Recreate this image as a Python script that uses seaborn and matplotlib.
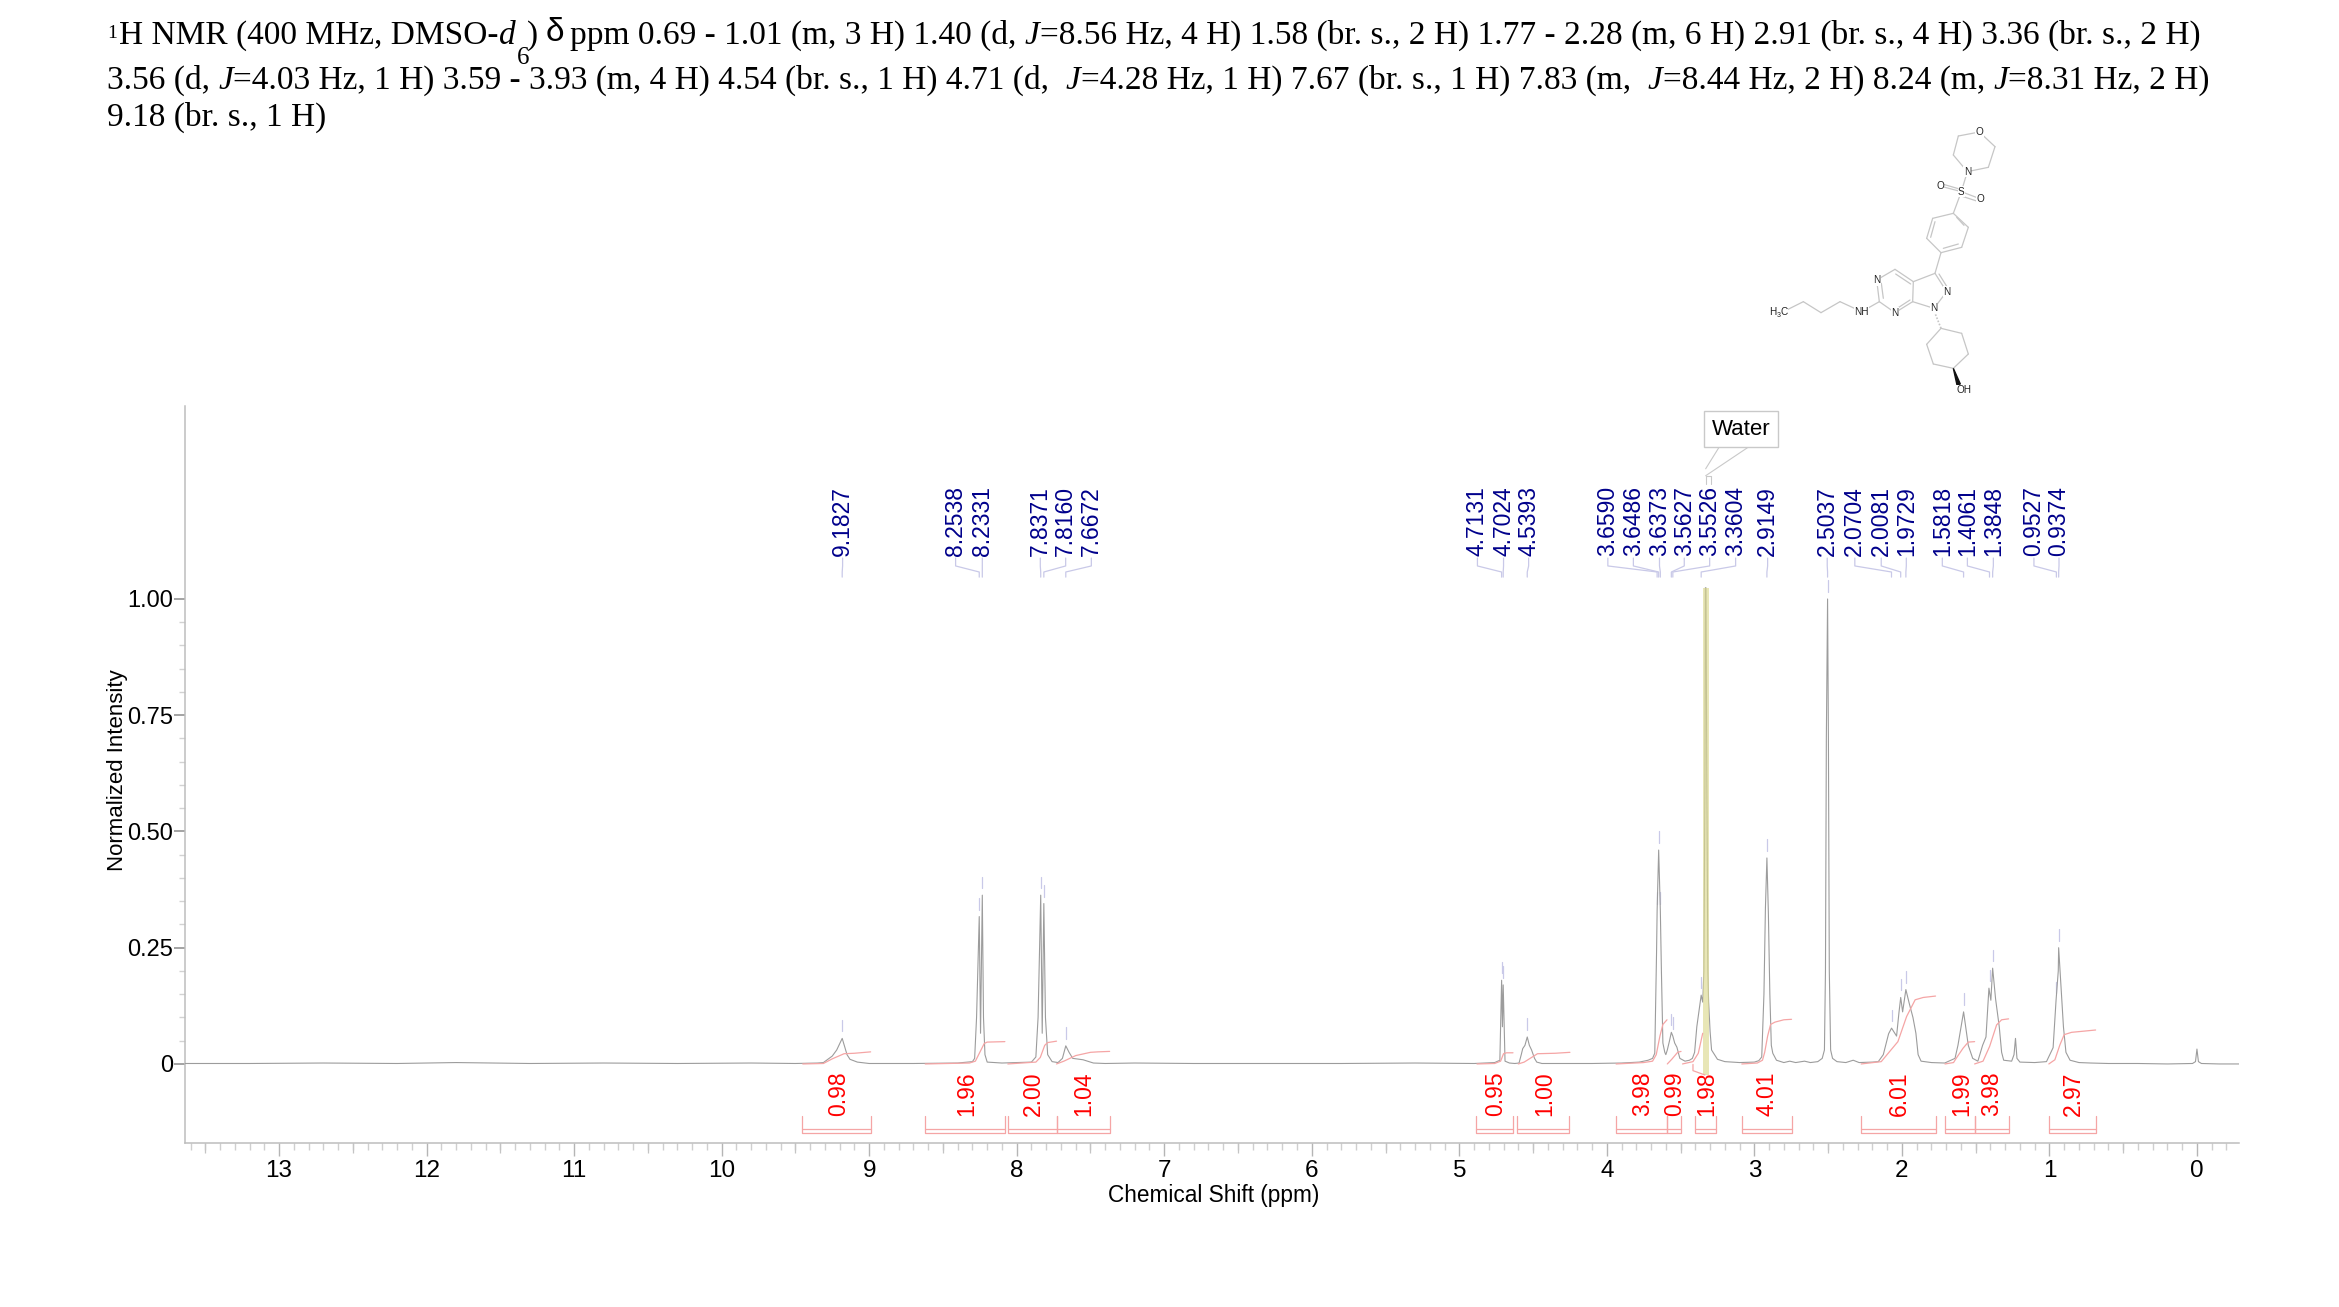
import numpy as np
import matplotlib
matplotlib.use("Agg")
import matplotlib.pyplot as plt
import seaborn as sns

sns.set_theme(style="ticks")
plt.rcParams['font.family'] = ['Liberation Sans', 'DejaVu Sans']

W, H = 2339, 1307

# ---- spectrum (ppm, normalized intensity) ----
spec_ppm = [13.64, 13.2, 12.7, 12.2, 11.8, 11.3, 10.8, 10.3, 9.8, 9.5, 9.35, 9.31, 9.25, 9.22, 9.1827, 9.15, 9.13, 9.08, 9.0,
            8.7, 8.4, 8.3, 8.285, 8.272, 8.2538, 8.245, 8.2331, 8.225, 8.215, 8.2, 8.1, 8.0, 7.9, 7.87, 7.855, 7.8371, 7.827, 7.816, 7.805, 7.79, 7.76,
            7.72, 7.69, 7.6672, 7.645, 7.62, 7.55, 7.48, 7.4, 7.2, 6.8, 6.3, 5.8, 5.3, 4.9, 4.76, 4.725, 4.7131, 4.7075, 4.7024, 4.69, 4.66, 4.624,
            4.595, 4.58, 4.57, 4.555, 4.5393, 4.525, 4.51, 4.49, 4.475, 4.44, 4.3, 4.1, 3.9, 3.78, 3.72, 3.69, 3.675, 3.663, 3.659, 3.6486, 3.6373, 3.63, 3.62, 3.607,
            3.6, 3.59, 3.575, 3.5627, 3.5526, 3.54, 3.525, 3.505, 3.47, 3.44, 3.42, 3.405, 3.39, 3.3604, 3.35, 3.342, 3.335, 3.332, 3.328, 3.322, 3.315, 3.31, 3.3,
            3.29, 3.25, 3.2, 3.1, 3.0, 2.97, 2.95, 2.935, 2.925, 2.9149, 2.905, 2.895, 2.885, 2.875, 2.85, 2.8, 2.76, 2.72, 2.66, 2.62, 2.57, 2.54, 2.525, 2.518, 2.512,
            2.5037, 2.498, 2.492, 2.483, 2.47, 2.44, 2.38, 2.33, 2.29, 2.2, 2.16, 2.126, 2.09, 2.07, 2.036, 2.02, 2.008, 1.995, 1.973, 1.95, 1.925, 1.905, 1.89, 1.87, 1.8,
            1.71, 1.64, 1.62, 1.5818, 1.55, 1.52, 1.485, 1.453, 1.43, 1.41, 1.397, 1.3848, 1.365, 1.34, 1.324, 1.31, 1.256, 1.24, 1.23, 1.22, 1.2, 1.1,
            1.02, 0.975, 0.955, 0.94, 0.9374, 0.92, 0.905, 0.888, 0.86, 0.8, 0.72, 0.6, 0.4, 0.2, 0.03, 0.01, 0.0, -0.01, -0.03, -0.15, -0.285]
spec_int = [0.001, 0.001, 0.002, 0.001, 0.003, 0.001, 0.002, 0.001, 0.002, 0.001, 0.002, 0.003, 0.017, 0.03, 0.055, 0.02, 0.01, 0.004, 0.001,
            0.001, 0.002, 0.005, 0.012, 0.1, 0.317, 0.066, 0.363, 0.1, 0.02, 0.004, 0.002, 0.003, 0.004, 0.015, 0.1, 0.363, 0.066, 0.345, 0.1, 0.02, 0.005,
            0.003, 0.012, 0.039, 0.025, 0.012, 0.009, 0.002, 0.001, 0.002, 0.001, 0.001, 0.001, 0.002, 0.001, 0.003, 0.008, 0.18, 0.08, 0.17, 0.006, 0.002, 0.001,
            0.002, 0.02, 0.033, 0.04, 0.058, 0.04, 0.03, 0.012, 0.004, 0.001, 0.001, 0.001, 0.002, 0.004, 0.008, 0.012, 0.023, 0.238, 0.33, 0.46, 0.33, 0.2, 0.045, 0.025,
            0.02, 0.03, 0.05, 0.068, 0.06, 0.045, 0.036, 0.012, 0.006, 0.008, 0.012, 0.025, 0.08, 0.148, 0.133, 0.2, 0.6, 1.024, 1.024, 0.6, 0.2, 0.133, 0.07,
            0.03, 0.01, 0.005, 0.003, 0.004, 0.007, 0.015, 0.15, 0.335, 0.443, 0.325, 0.15, 0.04, 0.023, 0.008, 0.003, 0.006, 0.003, 0.006, 0.003, 0.005, 0.012, 0.03, 0.2, 0.7,
            1.0, 0.7, 0.2, 0.03, 0.012, 0.005, 0.003, 0.008, 0.003, 0.004, 0.005, 0.02, 0.065, 0.077, 0.06, 0.11, 0.143, 0.112, 0.16, 0.13, 0.1, 0.066, 0.02, 0.006, 0.003,
            0.002, 0.012, 0.04, 0.112, 0.04, 0.012, 0.006, 0.04, 0.058, 0.163, 0.137, 0.206, 0.14, 0.08, 0.025, 0.008, 0.006, 0.02, 0.055, 0.012, 0.004, 0.003,
            0.005, 0.035, 0.137, 0.2, 0.25, 0.16, 0.08, 0.025, 0.008, 0.003, 0.002, 0.001, 0.001, 0.0, 0.001, 0.005, 0.032, 0.005, 0.001, 0.0, 0.0]

# ---- peak labels: text, ppm, stem position (ppm), peak height ----
peak_text = ["9.1827", "8.2538", "8.2331", "7.8371", "7.8160", "7.6672", "4.7131", "4.7024", "4.5393", "3.6590", "3.6486", "3.6373",
             "3.5627", "3.5526", "3.3604", "2.9149", "2.5037", "2.0704", "2.0081", "1.9729", "1.5818", "1.4061", "1.3848", "0.9527", "0.9374"]
peak_ppm = [float(t) for t in peak_text]
peak_stem = [9.18, 8.414, 8.233, 7.84, 7.668, 7.494, 4.877, 4.7, 4.53, 3.993, 3.82, 3.643, 3.475, 3.303, 3.127, 2.91, 2.506, 2.319, 2.14, 1.97,
             1.726, 1.556, 1.38, 1.105, 0.935]
peak_top = [0.055, 0.317, 0.363, 0.363, 0.345, 0.039, 0.18, 0.17, 0.058, 0.33, 0.46, 0.33, 0.068, 0.06, 0.148, 0.443, 1.0,
            0.077, 0.143, 0.16, 0.112, 0.163, 0.206, 0.137, 0.25]

# ---- integrals ----
integral_text = ["0.98", "1.96", "2.00", "1.04", "0.95", "1.00", "3.98", "0.99", "1.98", "4.01", "6.01", "1.99", "3.98", "2.97"]
integral_from = [9.457, 8.62, 8.06, 7.73, 4.887, 4.606, 3.937, 3.592, 3.403, 3.085, 2.276, 1.708, 1.507, 1.004]
integral_to = [8.99, 8.08, 7.73, 7.37, 4.636, 4.253, 3.592, 3.497, 3.26, 2.748, 1.772, 1.507, 1.277, 0.687]
integral_label_at = [9.21, 8.34, 7.89, 7.545, 4.755, 4.42, 3.756, 3.54, 3.32, 2.915, 2.02, 1.595, 1.39, 0.84]
integral_curves = [
    ([9.45, 9.31, 9.25, 9.17, 9.1, 8.99], [0, .001, .011, .022, .023, .026]),
    ([8.62, 8.32, 8.28, 8.25, 8.22, 8.2, 8.08], [0, .002, .006, .025, .044, .047, .048]),
    ([8.06, 7.87, 7.84, 7.81, 7.79, 7.73], [0, .004, .014, .04, .046, .049]),
    ([7.73, 7.68, 7.6, 7.5, 7.45, 7.37], [0, .006, .018, .025, .026, .027]),
    ([4.88, 4.76, 4.72, 4.7, 4.68, 4.636], [0, .001, .006, .022, .024, .024]),
    ([4.6, 4.56, 4.5, 4.47, 4.35, 4.25], [0, .004, .016, .022, .023, .025]),
    ([3.937, 3.75, 3.69, 3.665, 3.64, 3.62, 3.592], [0, .003, .006, .02, .06, .085, .095]),
    ([3.59, 3.56, 3.52, 3.497], [0, .01, .025, .027]),
    ([3.487, 3.416, 3.38, 3.35], [0, .005, .023, .066]),
    ([3.416, 3.416, 3.335], [-.001, -.0144, -.0237]),
    ([3.085, 2.98, 2.945, 2.93, 2.91, 2.89, 2.86, 2.8, 2.748], [0, .002, .008, .025, .06, .085, .09, .095, .096]),
    ([2.276, 2.14, 2.027, 1.968, 1.91, 1.855, 1.772], [0, .005, .048, .102, .138, .143, .146]),
    ([1.708, 1.65, 1.63, 1.585, 1.55, 1.507], [0, .003, .013, .034, .047, .048]),
    ([1.507, 1.45, 1.405, 1.358, 1.324, 1.277], [0, .006, .038, .084, .095, .097]),
    ([1.004, .963, .929, .9, .85, .687], [0, .009, .041, .063, .068, .073]),
]

x_major = [13, 12, 11, 10, 9, 8, 7, 6, 5, 4, 3, 2, 1, 0]
y_major = [0, 0.25, 0.5, 0.75, 1.0]
y_major_text = ["0", "0.25", "0.50", "0.75", "1.00"]

title_line1 = "ppm 0.69 - 1.01 (m, 3 H) 1.40 (d, |J|=8.56 Hz, 4 H) 1.58 (br. s., 2 H) 1.77 - 2.28 (m, 6 H) 2.91 (br. s., 4 H) 3.36 (br. s., 2 H)"
title_line2 = "3.56 (d, |J|=4.03 Hz, 1 H) 3.59 - 3.93 (m, 4 H) 4.54 (br. s., 1 H) 4.71 (d,  |J|=4.28 Hz, 1 H) 7.67 (br. s., 1 H) 7.83 (m,  |J|=8.44 Hz, 2 H) 8.24 (m, |J|=8.31 Hz, 2 H)"
title_line3 = "9.18 (br. s., 1 H)"

# ---- structure drawing, page pixels ----
mol_origin = (1740, 110)
mol_bonds = [((718, 66), (655, 78)), ((655, 78), (640, 135)), ((640, 135), (682, 185)), ((682, 185), (745, 172)), ((745, 172), (765, 110)), ((765, 110), (718, 66)),
             ((682, 185), (664, 245)), ((664, 245), (640, 310)),
             ((640, 310), (685, 352)), ((685, 352), (665, 412)), ((665, 412), (603, 428)), ((603, 428), (560, 385)), ((560, 385), (578, 325)), ((578, 325), (640, 310)),
             ((603, 428), (585, 490)), ((585, 490), (520, 515)), ((520, 515), (518, 575)), ((518, 575), (582, 595)), ((582, 595), (620, 545)), ((620, 545), (585, 490)),
             ((520, 515), (465, 478)), ((465, 478), (410, 510)), ((410, 510), (418, 575)), ((418, 575), (465, 608)), ((465, 608), (518, 575)),
             ((418, 575), (365, 605)), ((365, 605), (300, 575)), ((300, 575), (243, 608)), ((243, 608), (190, 575)), ((190, 575), (130, 605)),
             ((603, 655), (665, 670)), ((665, 670), (685, 732)), ((685, 732), (640, 775)), ((640, 775), (580, 762)), ((580, 762), (560, 703)), ((560, 703), (603, 655)),
             ((664, 245), (600, 228)), ((664, 245), (722, 267))]
mol_double = [((650, 322), (672, 346)), ((655, 402), (610, 415)), ((572, 382), (585, 335)),
              ((622, 532), (597, 492)), ((512, 522), (467, 492)), ((424, 520), (430, 565)), ((470, 596), (510, 570)),
              ((655, 236), (607, 222)), ((661, 257), (716, 275))]
mol_atoms = [("O", 718, 66), ("N", 682, 185), ("S", 664, 245), ("O", 600, 228), ("O", 722, 267), ("N", 620, 545), ("N", 582, 595),
             ("N", 410, 510), ("N", 465, 608), ("NH", 365, 605), ("H", 97, 605), ("C", 132, 605), ("OH", 672, 840)]

fig = plt.figure(figsize=(W / 100, H / 100), dpi=100, facecolor="white")
L, R, T, B = 184.6, 2239, 406, 1143
ax = fig.add_axes([L / W, 1 - B / H, (R - L) / W, (B - T) / H])
ax.set_facecolor("white")
ax.set_xlim(13.64, -0.285)
ax.set_ylim(-0.17, 1.415)

SP, INT, PK, PK_TXT = "#9c9c9c", "#f5a5a5", "#c9c9e8", "#00008b"

sns.lineplot(x=spec_ppm, y=spec_int, sort=False, estimator=None, errorbar=None, color=SP, lw=0.8, ax=ax, zorder=3)
ax.fill_betweenx([-0.024, 1.024], 3.346, 3.31, color="#dcd98f", alpha=0.65, lw=0, zorder=4)

for (cx, cy) in integral_curves:
    ax.plot(cx, cy, color=INT, lw=0.9, zorder=4)

for t, a, b, lab in zip(integral_text, integral_from, integral_to, integral_label_at):
    ax.plot([a, a, b, b], [-0.113, -0.148, -0.148, -0.113], color=INT, lw=0.9, zorder=3)
    ax.plot([a, b], [-0.14, -0.14], color=INT, lw=0.9, zorder=3)
    ax.text(lab, -0.112, t, rotation=90, ha="center", va="bottom", fontsize=16.5, color="#ff0000", zorder=5)

for t, p, s, top in zip(peak_text, peak_ppm, peak_stem, peak_top):
    ax.plot([s, s, p, p], [1.088, 1.071, 1.058, 1.047], color=PK, lw=0.9, zorder=2)
    ax.plot([p, p], [top + 0.015, top + 0.04], color=PK, lw=0.9, zorder=2)
    ax.text(s, 1.0925, t, rotation=90, ha="center", va="bottom", fontsize=16.5, color=PK_TXT)

# water callout
ax.plot([3.33, 3.33, 3.295, 3.295], [1.247, 1.265, 1.265, 1.247], color="#c9c9c9", lw=0.8)
ax.plot([3.33, 3.23], [1.28, 1.331], color="#c9c9c9", lw=0.8)
ax.plot([3.33, 3.02], [1.265, 1.331], color="#c9c9c9", lw=0.8)
ax.text(3.09, 1.3655, "Water", ha="center", va="center", fontsize=16, color="#000000",
        bbox=dict(boxstyle="square,pad=0.33", fc="white", ec="#c9c9c9", lw=1))

# axes furniture
sns.despine(ax=ax)
for s in ("left", "bottom"):
    ax.spines[s].set_color("#bdbdbd")
    ax.spines[s].set_linewidth(1.1)
ax.set_xticks(x_major)
ax.set_xticklabels([str(v) for v in x_major], fontsize=17.5, color="#000000")
ax.set_xticks([v / 10 for v in range(-2, 137) if v % 10 != 0], minor=True)
ax.tick_params(axis="x", which="major", length=9, width=1, color="#b5b5b5", pad=3)
ax.tick_params(axis="x", which="minor", length=5, width=1, color="#cfcfcf")
half_ticks = [v + 0.5 for v in range(0, 14)]
ax.vlines(half_ticks, 0, -10 / (B - T), transform=ax.get_xaxis_transform(), color="#c4c4c4", lw=0.9, clip_on=False)
ax.set_yticks(y_major)
ax.set_yticklabels(y_major_text, fontsize=17, color="#000000")
ax.set_yticks([v * 0.05 for v in range(0, 21) if v % 5 != 0], minor=True)
ax.tick_params(axis="y", which="major", length=8, width=1.1, color="#8a8a8a", pad=0)
ax.tick_params(axis="y", which="minor", length=4.5, width=1, color="#d2d2d2")
ax.set_xlabel("Chemical Shift (ppm)", fontsize=16.3, color="#000000")
ax.xaxis.set_label_coords((1214 - L) / (R - L), 1 - (1184 - T) / (B - T))
ax.xaxis.label.set_va("top")
ax.set_ylabel("Normalized Intensity", fontsize=16, color="#000000")
ax.yaxis.set_label_coords((118 - L) / (R - L), 1 - (770 - T) / (B - T))
ax.yaxis.label.set_va("center")
ax.grid(False)

# page overlay in pixels for title and structure
pg = fig.add_axes([0, 0, 1, 1], facecolor="none")
pg.set_xlim(0, W)
pg.set_ylim(H, 0)
pg.axis("off")

renderer = fig.canvas.get_renderer()
SERIF = "Liberation Serif"
TS = 24.0


def run(x, y, s, **kw):
    kw.setdefault("family", SERIF)
    kw.setdefault("fontsize", TS)
    pg.text(x, y, s, va="baseline", ha="left", color="#000000", **kw)
    probe = pg.text(x, y, s.replace(" ", "\u00a0") + "|", va="baseline", ha="left", **kw)
    bar = pg.text(x, y, "|", va="baseline", ha="left", **kw)
    w = probe.get_window_extent(renderer).width - bar.get_window_extent(renderer).width
    probe.remove()
    bar.remove()
    return x + w


def line(x, y, marked):
    for i, part in enumerate(marked.split("|")):
        if part:
            x = run(x, y, part, style="italic" if i % 2 else "normal")
    return x


x = run(107, 38, "1", fontsize=14)
x = run(119, 44, "H NMR (400 MHz, DMSO-")
x = run(x, 44, "d", style="italic")
run(517, 64, "6", fontsize=18)
run(527, 44, ")")
run(546, 41, "\u03b4", family="Liberation Sans", fontsize=24)
line(570, 44, title_line1)
line(107, 89, title_line2)
line(107, 126, title_line3)

ox, oy = mol_origin
for (a, b), (c, d) in mol_bonds + mol_double:
    pg.plot([ox + a / 3, ox + c / 3], [oy + b / 3, oy + d / 3], color="#c6c6c6", lw=0.9, zorder=2)
# stereo bonds
pg.fill([ox + 640 / 3, ox + 651 / 3, ox + 661 / 3], [oy + 775 / 3, oy + 825 / 3, oy + 822 / 3], color="#111111", zorder=3)
pg.plot([ox + 603 / 3, ox + 586 / 3], [oy + 655 / 3, oy + 612 / 3], color="#c6c6c6", lw=1.2, ls=(0, (1, 1)))
for s, a, b in mol_atoms:
    pg.text(ox + a / 3, oy + b / 3, s, ha="center", va="center", fontsize=7.2, color="#222222",
            bbox=dict(boxstyle="square,pad=0.05", fc="white", ec="none"), zorder=4)
pg.text(ox + 115 / 3, oy + 617 / 3, "3", ha="center", va="center", fontsize=5, color="#222222", zorder=4)

fig.savefig("out.png", dpi=100, facecolor="white")
